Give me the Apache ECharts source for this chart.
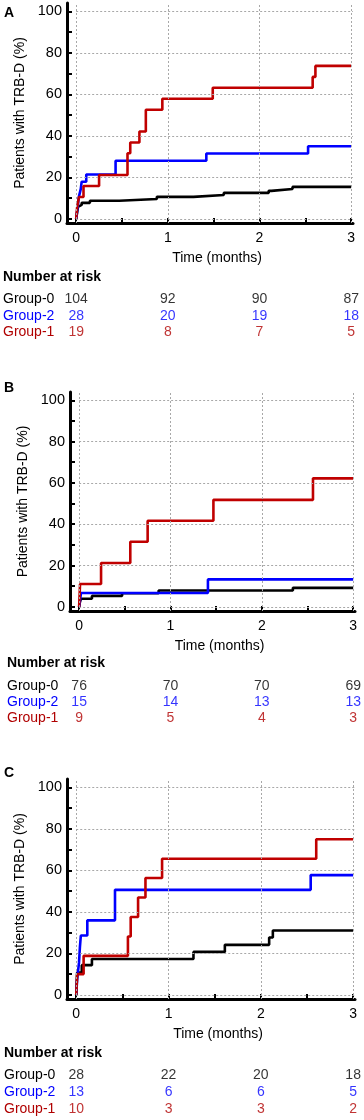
<!DOCTYPE html>
<html>
<head>
<meta charset="utf-8">
<script src="https://cdn.jsdelivr.net/npm/echarts@6/dist/echarts.min.js"></script>
<style>
  html, body { margin: 0; padding: 0; background: #fff; }
  #chart { width: 364px; height: 1120px; }
</style>
</head>
<body>
<div id="chart"></div>
<script>
// cumulative incidence (%) step curves, [months, value after event]
const aGroup0 = [[0, 0], [0.01, 2.9], [0.02, 5.8], [0.04, 6.7], [0.06, 7.7], [0.15, 8.7], [0.47, 9.6], [0.88, 10.6], [1.28, 11.5], [1.61, 12.5], [2.1, 13.5], [2.13, 14.4], [2.36, 15.4], [3, 15.4]];
const aGroup2 = [[0, 0], [0.01, 3.6], [0.02, 7.1], [0.03, 10.7], [0.05, 14.3], [0.06, 17.9], [0.11, 21.4], [0.43, 28.0], [1.42, 31.5], [2.53, 35.0], [3, 35.0]];
const aGroup1 = [[0, 0], [0.01, 5.3], [0.03, 10.5], [0.08, 15.8], [0.25, 21.1], [0.56, 31.6], [0.59, 36.8], [0.69, 42.1], [0.76, 52.6], [0.94, 57.9], [1.49, 63.2], [2.58, 68.4], [2.61, 73.7], [3, 73.7]];

const bGroup0 = [[0, 0], [0.01, 2.6], [0.02, 3.9], [0.14, 5.3], [0.47, 6.6], [0.87, 7.9], [2.34, 9.2], [3, 9.2]];
const bGroup2 = [[0, 0], [0.02, 6.7], [1.41, 13.3], [3, 13.3]];
const bGroup1 = [[0, 0], [0.01, 11.1], [0.24, 21.2], [0.56, 31.5], [0.75, 41.7], [1.47, 51.8], [2.56, 62.2], [3, 62.2]];

const cGroup0 = [[0, 0], [0.01, 10.7], [0.06, 14.3], [0.17, 17.3], [1.27, 20.7], [1.61, 24.1], [2.09, 27.6], [2.13, 31.0], [3, 31.0]];
const cGroup2 = [[0, 0], [0.01, 7.7], [0.03, 15.4], [0.04, 23.1], [0.05, 28.6], [0.12, 35.9], [0.42, 50.6], [2.54, 57.7], [3, 57.7]];
const cGroup1 = [[0, 0], [0.01, 10.0], [0.08, 18.8], [0.56, 28.1], [0.59, 37.5], [0.67, 46.9], [0.75, 56.3], [0.93, 65.6], [2.6, 75.0], [3, 75.0]];

// number at risk
const riskTimes = [0, 1, 2, 3];
const groupNames = ['Group-0', 'Group-2', 'Group-1'];
const aRisk0 = [104, 92, 90, 87];
const aRisk2 = [28, 20, 19, 18];
const aRisk1 = [19, 8, 7, 5];
const bRisk0 = [76, 70, 70, 69];
const bRisk2 = [15, 14, 13, 13];
const bRisk1 = [9, 5, 4, 3];
const cRisk0 = [28, 22, 20, 18];
const cRisk2 = [13, 6, 6, 5];
const cRisk1 = [10, 3, 3, 2];

// axis ticks
const xLabels = [0, 1, 2, 3];
const xTicks = [0, 0.5, 1, 1.5, 2, 2.5, 3];
const yLabels = [0, 20, 40, 60, 80, 100];
const yTicks = [0, 10, 20, 30, 40, 50, 60, 70, 80, 90, 100];

const FONT = '"Liberation Sans", Arial, Helvetica, sans-serif';
const lineColors = ['#000000', '#0000ff', '#c00000'];
const textColors = ['#000000', '#0000ff', '#b00000'];
const X_MIN = -0.1, X_MAX = 3.02, Y_MIN = -2, Y_MAX = 104;

const panels = [
  { letter: 'A', curves: [aGroup0, aGroup2, aGroup1], risk: [aRisk0, aRisk2, aRisk1],
    plot: { left: 67, top: 3, width: 286, height: 220 }, table: { top: 290.7, height: 50 },
    letterTop: 6, titleTop: 270, textLeft: 3 },
  { letter: 'B', curves: [bGroup0, bGroup2, bGroup1], risk: [bRisk0, bRisk2, bRisk1],
    plot: { left: 70, top: 392, width: 285, height: 219 }, table: { top: 678, height: 48 },
    letterTop: 381, titleTop: 656, textLeft: 7 },
  { letter: 'C', curves: [cGroup0, cGroup2, cGroup1], risk: [cRisk0, cRisk2, cRisk1],
    plot: { left: 67, top: 779, width: 288, height: 220 }, table: { top: 1066.5, height: 51 },
    letterTop: 766, titleTop: 1046, textLeft: 4 },
];

const grid = [], xAxis = [], yAxis = [], series = [], graphic = [];

panels.forEach((p, i) => {
  const gPlot = i * 2;
  const gTable = i * 2 + 1;

  grid.push({ left: p.plot.left, top: p.plot.top, width: p.plot.width, height: p.plot.height });
  grid.push({ left: p.plot.left, top: p.table.top, width: p.plot.width, height: p.table.height });

  xAxis.push({
    gridIndex: gPlot,
    type: 'value',
    min: X_MIN,
    max: X_MAX,
    axisLine: { onZero: false, lineStyle: { color: '#000', width: 3 } },
    axisTick: { inside: true, length: 5, customValues: xTicks, lineStyle: { color: '#000', width: 2 } },
    axisLabel: { customValues: xLabels, margin: 8, fontSize: 14, color: '#000', fontFamily: FONT },
    splitLine: { show: false },
    name: 'Time (months)',
    nameLocation: 'middle',
    nameGap: 28,
    nameTextStyle: { fontSize: 14, color: '#000', fontFamily: FONT, padding: [0, 0, 0, 14] },
  });
  xAxis.push({ gridIndex: gTable, type: 'value', min: X_MIN, max: X_MAX, show: false });

  yAxis.push({
    gridIndex: gPlot,
    type: 'value',
    min: Y_MIN,
    max: Y_MAX,
    axisLine: { show: true, onZero: false, lineStyle: { color: '#000', width: 3 } },
    axisTick: { show: true, inside: true, length: 5, customValues: yTicks, lineStyle: { color: '#000', width: 2 } },
    axisLabel: { customValues: yLabels, margin: 5, fontSize: 14.5, color: '#000', fontFamily: FONT },
    splitLine: { show: false },
    name: 'Patients with TRB-D (%)',
    nameLocation: 'middle',
    nameGap: 28,
    nameTextStyle: { fontSize: 14, color: '#000', fontFamily: FONT },
  });
  yAxis.push({
    gridIndex: gTable,
    type: 'category',
    data: groupNames,
    inverse: true,
    axisLine: { show: false },
    axisTick: { show: false },
    splitLine: { show: false },
    axisLabel: {
      interval: 0,
      align: 'left',
      margin: p.plot.left - p.textLeft,
      fontSize: 14,
      fontFamily: FONT,
      color: (v) => textColors[groupNames.indexOf(v)],
    },
  });

  // dotted grid lines
  const gridLines = [];
  yLabels.forEach(v => gridLines.push([{ coord: [0, v] }, { coord: [X_MAX, v] }]));
  xLabels.forEach(t => gridLines.push([{ coord: [t, Y_MIN] }, { coord: [t, Y_MAX] }]));
  series.push({
    type: 'line',
    xAxisIndex: gPlot,
    yAxisIndex: gPlot,
    data: [[0, 0]],
    symbol: 'none',
    lineStyle: { opacity: 0 },
    z: 1,
    silent: true,
    markLine: {
      silent: true,
      symbol: ['none', 'none'],
      label: { show: false },
      lineStyle: { color: '#a8a8a8', type: [2, 2], width: 1 },
      data: gridLines,
      animation: false,
    },
  });

  p.curves.forEach((d, g) => {
    series.push({
      type: 'line',
      name: groupNames[g],
      xAxisIndex: gPlot,
      yAxisIndex: gPlot,
      data: d,
      step: 'end',
      symbol: 'none',
      showSymbol: false,
      lineStyle: { color: lineColors[g], width: 2.6 },
      itemStyle: { color: lineColors[g] },
      z: 3,
    });
  });

  p.risk.forEach((counts, g) => {
    series.push({
      type: 'scatter',
      xAxisIndex: gTable,
      yAxisIndex: gTable,
      data: riskTimes.map((t, k) => [t, groupNames[g], counts[k]]),
      symbolSize: 1,
      itemStyle: { color: 'rgba(0,0,0,0)' },
      label: {
        show: true,
        position: 'inside',
        formatter: (prm) => String(prm.value[2]),
        color: textColors[g],
        fontSize: 14,
        fontFamily: FONT,
      },
      silent: true,
    });
  });

  graphic.push({
    type: 'text', left: 4, top: p.letterTop,
    style: { text: p.letter, fontSize: 14, fontWeight: 'bold', fontFamily: FONT, fill: '#000' },
  });
  graphic.push({
    type: 'text', left: p.textLeft, top: p.titleTop,
    style: { text: 'Number at risk', fontSize: 14, fontWeight: 'bold', fontFamily: FONT, fill: '#000' },
  });
});

const chart = echarts.init(document.getElementById('chart'));
chart.setOption({
  animation: false,
  backgroundColor: '#fff',
  grid,
  xAxis,
  yAxis,
  series,
  graphic,
});
</script>
</body>
</html>
